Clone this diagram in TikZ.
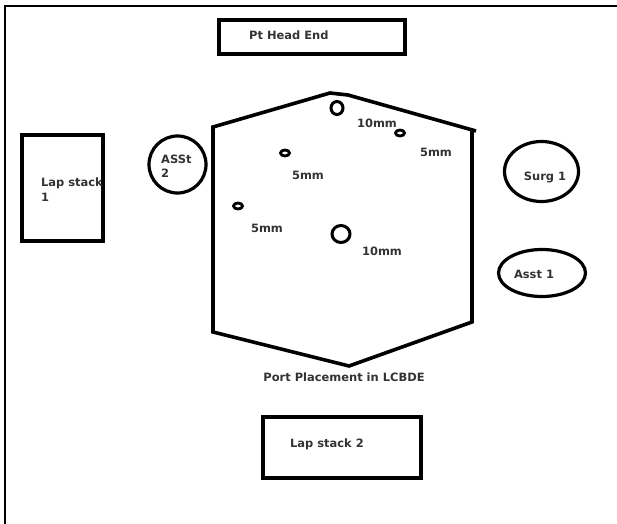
\documentclass[tikz,border=0pt]{standalone}
\usepackage{fontspec}
\setmainfont{DejaVu Sans}
\usetikzlibrary{shapes.geometric}
\begin{document}
\begin{tikzpicture}[x=1bp,y=-1bp,
  lbl/.style={font=\bfseries\fontsize{11.5}{14.5}\selectfont, text=black!80, inner sep=0pt},
  thickbox/.style={draw, line width=4bp, inner sep=0pt},
  ring/.style={draw, line width=3.2bp, ellipse, inner sep=0pt},
  hole/.style={draw, line width=2.8bp, ellipse, inner sep=0pt}]
\useasboundingbox (0,0) rectangle (617,524);
\clip (0,0) rectangle (617,524);
% outer frame
\draw[line width=1.6bp] (5,540) -- (5,6) -- (640,6);
% boxes
\node[thickbox, minimum width=186bp, minimum height=34bp] (head) at (312,37) {};
\node[lbl, anchor=west] (headt) at (249,35) {Pt Head End};
\node[thickbox, minimum width=81bp, minimum height=106bp] (lap1) at (62.5,188) {};
\node[lbl, anchor=north west, align=left] (lap1t) at (41,178) {Lap stack\\1};
\node[thickbox, minimum width=158bp, minimum height=61bp] (lap2) at (342,447.5) {};
\node[lbl] (lap2t) at (327,444) {Lap stack 2};
% people
\node[ring, minimum width=57bp, minimum height=57bp] (asst2) at (177.5,164.5) {};
\node[lbl, anchor=north west, align=left] (asst2t) at (161,154.5) {ASSt\\2};
\node[ring, minimum width=74bp, minimum height=60bp] (surg1) at (541.5,171.5) {};
\node[lbl] (surg1t) at (545,177) {Surg 1};
\node[ring, minimum width=87bp, minimum height=47bp] (asst1) at (542,273) {};
\node[lbl] (asst1t) at (534,274) {Asst 1};
% patient outline
\coordinate (h1) at (213,127);
\coordinate (h2) at (330,93);
\coordinate (h3) at (348,95);
\coordinate (h4) at (476,131);
\coordinate (h5) at (472,322);
\coordinate (h6) at (349,366);
\coordinate (h7) at (213,332);
\draw[line width=3.6bp] (472,131) -- (h5) -- (h6) -- (h7) -- (h1) -- (h2) -- (h3) -- (h4);
% ports
\node[ring, line width=3bp, minimum width=12bp, minimum height=13bp] (p1) at (337,108) {};
\node[hole, minimum width=9bp, minimum height=6bp] (p2) at (400,133) {};
\node[hole, minimum width=9bp, minimum height=6bp] (p3) at (285,153) {};
\node[hole, minimum width=9bp, minimum height=6bp] (p4) at (238,206) {};
\node[ring, line width=3bp, minimum width=18bp, minimum height=17bp] (p5) at (341,234) {};
\node[lbl] (p1t) at (377,123) {10mm};
\node[lbl] (p2t) at (436,152) {5mm};
\node[lbl] (p3t) at (308,175) {5mm};
\node[lbl] (p4t) at (267,228) {5mm};
\node[lbl] (p5t) at (382,251) {10mm};
\node[lbl] (title) at (344,377) {Port Placement in LCBDE};
\end{tikzpicture}
\end{document}
